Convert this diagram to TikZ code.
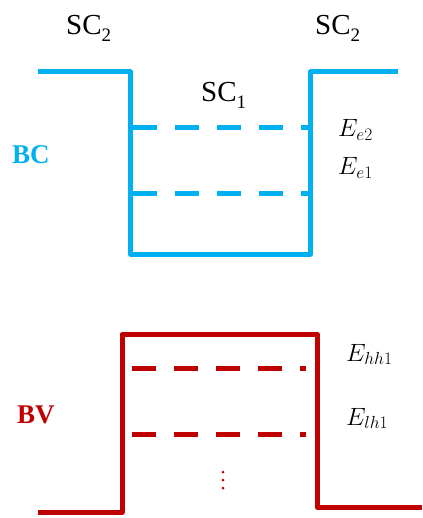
\documentclass[tikz,border=0pt]{standalone}
\usepackage{fix-cm}
\usepackage{fontspec}
\setmainfont{Liberation Serif}
\definecolor{bcblue}{HTML}{00B0F0}
\definecolor{bvred}{HTML}{C00000}
\newcommand{\scsub}[1]{SC\raisebox{-0.22em}{\fontsize{19}{19}\selectfont #1}}
\begin{document}
\begin{tikzpicture}[x=1pt,y=-1pt,
  band/.style={line width=5pt, line join=round},
  level/.style={line width=5pt, dash pattern=on 24pt off 18pt},
  sclabel/.style={anchor=base west, inner sep=0pt, font=\fontsize{29}{32}\selectfont},
  elabel/.style={anchor=base west, inner sep=0pt, font=\fontsize{25}{28}\selectfont},
  bandname/.style={anchor=base west, inner sep=0pt, font=\fontsize{27}{30}\selectfont\bfseries}]
\useasboundingbox (0,0) rectangle (422,518);
% conduction band
\draw[band, bcblue] (38,72) -- (130.5,72) -- (130.5,254) -- (310.5,254) -- (310.5,72) -- (398,72);
\draw[level, bcblue] (133,128) -- (308,128);
\draw[level, bcblue] (133,194) -- (308,194);
% valence band
\draw[band, bvred] (38,512) -- (122,512) -- (122,334.5) -- (317.5,334.5) -- (317.5,507.5) -- (422,507.5);
\draw[level, bvred] (132,368) -- (306,368);
\draw[level, bvred] (132,434.5) -- (306,434.5);
\foreach \yy in {472,480,488} \fill[bvred] (223,\yy) circle (1.5pt);
% labels
\node[sclabel] (sc2l) at (66,35) {\scsub{2}};
\node[sclabel] (sc2r) at (315,35) {\scsub{2}};
\node[sclabel] (sc1) at (201,102) {\scsub{1}};
\node[elabel] (ee2) at (338,137) {$E_{e2}$};
\node[elabel] (ee1) at (338,175) {$E_{e1}$};
\node[elabel] (ehh1) at (346,361) {$E_{hh1}$};
\node[elabel] (elh1) at (346,425) {$E_{lh1}$};
\node[bandname, text=bcblue] (bc) at (12,164) {BC};
\node[bandname, text=bvred] (bv) at (17,423) {BV};
\end{tikzpicture}
\end{document}
